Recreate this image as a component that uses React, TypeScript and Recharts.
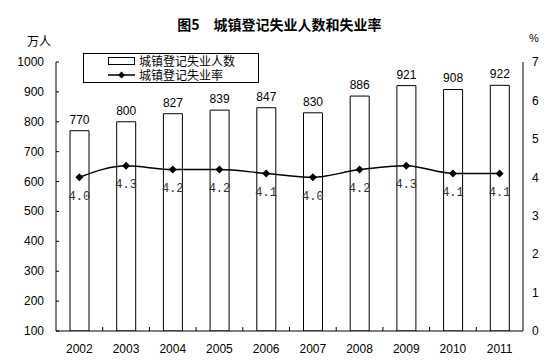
import React from 'react'
import {
  ComposedChart,
  Bar,
  Line,
  XAxis,
  YAxis,
  LabelList,
} from 'recharts'

const years = ['2002', '2003', '2004', '2005', '2006', '2007', '2008', '2009', '2010', '2011']
const registered = [770, 800, 827, 839, 847, 830, 886, 921, 908, 922]
const rates = [4.0, 4.3, 4.2, 4.2, 4.1, 4.0, 4.2, 4.3, 4.1, 4.1]
const leftTicks = [100, 200, 300, 400, 500, 600, 700, 800, 900, 1000]
const rightTicks = [0, 1, 2, 3, 4, 5, 6, 7]

const data = years.map((year, i) => ({
  year,
  count: registered[i],
  rate: rates[i],
}))

const W = 559
const H = 364
const PLOT_LEFT = 56
const PLOT_RIGHT = 523
const BAND = (PLOT_RIGHT - PLOT_LEFT) / years.length

const sans = 'Arial, "Liberation Sans", sans-serif'
const cjk = '"Noto Sans CJK SC", sans-serif'

function LeftTick(props: any) {
  const { x, y, payload } = props
  return (
    <g>
      <line x1={PLOT_LEFT} x2={PLOT_LEFT + 3} y1={y} y2={y} stroke="#000" />
      <text x={x} y={y} dy={4} textAnchor="end" fontSize={12} fontFamily={sans} fill="#000">
        {payload.value}
      </text>
    </g>
  )
}

function BottomTick(props: any) {
  const { x, y, payload, index } = props
  return (
    <g>
      {index < years.length - 1 && (
        <line x1={x + BAND / 2} x2={x + BAND / 2} y1={y - 4} y2={y} stroke="#000" />
      )}
      <text x={x} y={y} dy={22} textAnchor="middle" fontSize={12} fontFamily={sans} fill="#000">
        {payload.value}
      </text>
    </g>
  )
}

function Diamond(props: any) {
  const { cx, cy, index } = props
  if (cx == null || cy == null) return <g key={index} />
  const r = 4
  return (
    <path
      key={index}
      d={`M${cx},${cy - r}L${cx + r},${cy}L${cx},${cy + r}L${cx - r},${cy}Z`}
      fill="#000"
    />
  )
}

function LegendBox() {
  return (
    <div
      style={{
        position: 'absolute',
        left: 83,
        top: 53,
        width: 176,
        height: 30,
        border: '1px solid #000',
        background: '#fff',
        fontFamily: cjk,
        fontSize: 12,
        lineHeight: '14px',
        boxSizing: 'border-box',
      }}
    >
      <div style={{ display: 'flex', alignItems: 'center', height: 14 }}>
        <div style={{ width: 25, height: 6, border: '1px solid #000', marginLeft: 24, marginRight: 4 }} />
        <span>城镇登记失业人数</span>
      </div>
      <div style={{ display: 'flex', alignItems: 'center', height: 14 }}>
        <svg width={27} height={10} style={{ marginLeft: 24, marginRight: 4 }}>
          <line x1={0} x2={27} y1={5} y2={5} stroke="#000" strokeWidth={1.5} />
          <path d="M13.5,1.5L17,5L13.5,8.5L10,5Z" fill="#000" />
        </svg>
        <span>城镇登记失业率</span>
      </div>
    </div>
  )
}

export default function App() {
  return (
    <div style={{ position: 'relative', width: W, height: H, background: '#fff' }}>
      <style>{'body{margin:0}'}</style>
      <div
        style={{
          position: 'absolute',
          top: 14,
          left: 0,
          width: W,
          textAlign: 'center',
          fontFamily: cjk,
          fontWeight: 'bold',
          fontSize: 14,
        }}
      >
        图5　城镇登记失业人数和失业率
      </div>
      <div style={{ position: 'absolute', top: 32, left: 27, fontFamily: cjk, fontSize: 12 }}>万人</div>
      <div style={{ position: 'absolute', top: 32, left: 529, fontFamily: sans, fontSize: 11 }}>%</div>
      <ComposedChart
        width={W}
        height={H}
        data={data}
        margin={{ top: 62, right: 0, bottom: 0, left: 0 }}
        barCategoryGap={0}
      >
        <XAxis
          dataKey="year"
          height={33}
          axisLine={{ stroke: '#000' }}
          tickLine={false}
          tickSize={0}
          tickMargin={0}
          tick={<BottomTick />}
          interval={0}
        />
        <YAxis
          yAxisId="l"
          width={56}
          domain={[100, 1000]}
          ticks={leftTicks}
          allowDataOverflow
          axisLine={{ stroke: '#000' }}
          tickLine={false}
          tickSize={0}
          tickMargin={12}
          tick={<LeftTick />}
          interval={0}
        />
        <YAxis
          yAxisId="r"
          orientation="right"
          width={36}
          domain={[0, 7]}
          ticks={rightTicks}
          axisLine={{ stroke: '#000' }}
          tickLine={false}
          tickSize={0}
          tickMargin={9}
          tick={{ fontSize: 12, fontFamily: sans, fill: '#000', textAnchor: 'start' }}
          interval={0}
        />
        <Bar
          yAxisId="l"
          dataKey="count"
          fill="#fff"
          stroke="#000"
          strokeWidth={1}
          barSize={19}
          isAnimationActive={false}
        >
          <LabelList
            dataKey="count"
            position="top"
            offset={7}
            fontSize={12}
            fontFamily={sans}
            fill="#000"
          />
        </Bar>
        <Line
          yAxisId="r"
          type="monotone"
          dataKey="rate"
          stroke="#000"
          strokeWidth={1.5}
          dot={<Diamond />}
          activeDot={false}
          isAnimationActive={false}
        >
          <LabelList
            dataKey="rate"
            position="bottom"
            offset={14}
            fontSize={12}
            fontFamily='"Liberation Mono", monospace'
            fill="#333"
            formatter={(v: any) => Number(v).toFixed(1)}
          />
        </Line>
      </ComposedChart>
      <LegendBox />
    </div>
  )
}
